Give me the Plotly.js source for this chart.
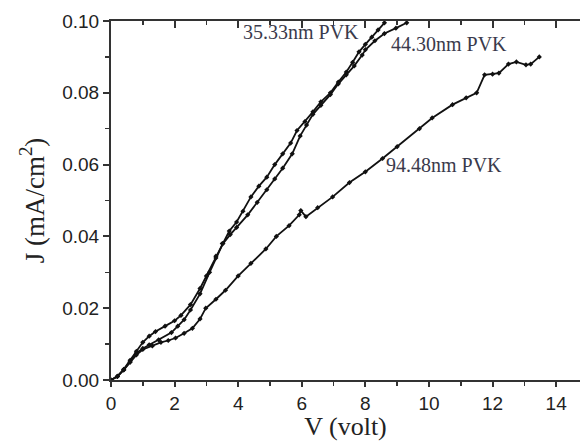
<!DOCTYPE html>
<html>
<head>
<meta charset="utf-8">
<script src="https://cdn.plot.ly/plotly-3.0.1.min.js"></script>
<style>
html,body{margin:0;padding:0;background:#fff;}
#chart{width:580px;height:441px;}
</style>
</head>
<body>
<div id="chart"></div>
<script>
// 35.33 nm PVK
const v35 = [0, 0.2, 0.4, 0.6, 0.8, 1.0, 1.2, 1.4, 1.7, 2.0, 2.2, 2.5, 2.8, 3.0, 3.3, 3.5, 3.72, 3.95, 4.15, 4.4, 4.65, 4.9, 5.15, 5.4, 5.65, 5.85, 6.1, 6.35, 6.6, 6.9, 7.15, 7.4, 7.6, 7.8, 8.0, 8.2, 8.4, 8.6];
const j35 = [0, 0.001, 0.003, 0.0055, 0.008, 0.0105, 0.0122, 0.0135, 0.015, 0.0165, 0.018, 0.021, 0.0255, 0.029, 0.0345, 0.038, 0.0415, 0.044, 0.047, 0.051, 0.054, 0.0565, 0.060, 0.063, 0.066, 0.0695, 0.072, 0.0747, 0.0775, 0.080, 0.083, 0.0858, 0.0885, 0.0914, 0.0935, 0.0955, 0.0975, 0.0995];
// 44.30 nm PVK
const v44 = [0, 0.2, 0.4, 0.6, 0.8, 1.0, 1.2, 1.5, 1.9, 2.1, 2.3, 2.5, 2.8, 3.1, 3.3, 3.52, 3.75, 3.95, 4.3, 4.6, 4.9, 5.15, 5.4, 5.7, 5.95, 6.15, 6.35, 6.6, 6.9, 7.15, 7.4, 7.65, 7.9, 8.0, 8.3, 8.6, 8.96, 9.3];
const j44 = [0, 0.001, 0.0028, 0.005, 0.0075, 0.0088, 0.0098, 0.0112, 0.0132, 0.015, 0.0168, 0.0195, 0.024, 0.030, 0.034, 0.038, 0.0405, 0.0425, 0.046, 0.0495, 0.053, 0.056, 0.059, 0.063, 0.068, 0.071, 0.074, 0.0765, 0.0795, 0.0825, 0.085, 0.0875, 0.0905, 0.092, 0.0945, 0.0965, 0.098, 0.0995];
// 94.48 nm PVK
const v94 = [0, 0.2, 0.4, 0.6, 0.8, 1.0, 1.3, 1.57, 1.8, 2.03, 2.3, 2.56, 2.8, 2.98, 3.3, 3.6, 4.0, 4.4, 4.87, 5.2, 5.6, 5.92, 5.97, 6.13, 6.5, 6.97, 7.5, 8.0, 8.54, 9.0, 9.7, 10.1, 10.74, 11.17, 11.5, 11.75, 12.0, 12.2, 12.5, 12.75, 13.05, 13.2, 13.47];
const j94 = [0, 0.001, 0.0028, 0.005, 0.007, 0.0085, 0.0095, 0.0105, 0.011, 0.0117, 0.013, 0.0144, 0.017, 0.020, 0.0225, 0.025, 0.029, 0.0325, 0.0365, 0.040, 0.043, 0.046, 0.0472, 0.0455, 0.048, 0.051, 0.055, 0.058, 0.0617, 0.065, 0.070, 0.073, 0.0767, 0.0786, 0.080, 0.085, 0.0852, 0.0855, 0.088, 0.0886, 0.0878, 0.088, 0.090];

const seriesNames = ['35.33nm PVK', '44.30nm PVK', '94.48nm PVK'];
const xTickVals = [0, 2, 4, 6, 8, 10, 12, 14];
const yTickVals = [0, 0.02, 0.04, 0.06, 0.08, 0.10];

const mk = (x, y, name) => ({
  x: x, y: y, name: name, type: 'scatter', mode: 'lines+markers',
  line: {color: '#111', width: 1.8},
  marker: {color: '#111', size: 4, symbol: 'diamond'},
  showlegend: false, hoverinfo: 'skip'
});

const data = [
  mk(v35, j35, seriesNames[0]),
  mk(v44, j44, seriesNames[1]),
  mk(v94, j94, seriesNames[2]),
  {x: [0], y: [0], xaxis: 'x2', yaxis: 'y', type: 'scatter', mode: 'markers',
   marker: {opacity: 0}, showlegend: false, hoverinfo: 'skip'}
];

const axColor = '#333';
const serif = 'Liberation Serif, Times New Roman, serif';
const sans = 'Liberation Sans, Arial, sans-serif';

const layout = {
  width: 580, height: 441,
  margin: {l: 111, r: 0, t: 21, b: 61, pad: 0},
  paper_bgcolor: '#fff', plot_bgcolor: '#fff',
  xaxis: {
    range: [0, 14.75], tickvals: xTickVals, ticktext: xTickVals.map(String),
    showline: true, linecolor: axColor, linewidth: 2, zeroline: false, showgrid: false,
    ticks: 'outside', ticklen: 5, tickwidth: 2, tickcolor: axColor,
    minor: {dtick: 1, tick0: 0, ticks: 'outside', ticklen: 4, tickwidth: 1.5, tickcolor: axColor, showgrid: false},
    tickfont: {family: sans, size: 19, color: '#222'},
    title: {text: 'V (volt)', font: {family: serif, size: 26, color: '#222'}, standoff: 6}
  },
  xaxis2: {
    overlaying: 'x', side: 'top', matches: 'x', range: [0, 14.75],
    tickvals: xTickVals, showticklabels: false,
    showline: true, linecolor: axColor, linewidth: 2, zeroline: false, showgrid: false,
    ticks: 'inside', ticklen: 7, tickwidth: 2, tickcolor: axColor,
    minor: {dtick: 1, tick0: 0, ticks: 'inside', ticklen: 4, tickwidth: 1.5, tickcolor: axColor, showgrid: false}
  },
  yaxis: {
    range: [0, 0.1], tickvals: yTickVals, tickformat: '.2f',
    showline: true, linecolor: axColor, linewidth: 2, zeroline: false, showgrid: false,
    ticks: 'outside', ticklen: 6, tickwidth: 2, tickcolor: axColor,
    minor: {dtick: 0.01, tick0: 0, ticks: 'outside', ticklen: 4, tickwidth: 1.5, tickcolor: axColor, showgrid: false},
    tickfont: {family: sans, size: 19, color: '#222'},
    title: {text: 'J (mA/cm<sup>2</sup>)', font: {family: serif, size: 27, color: '#222'}, standoff: 10}
  },
  annotations: [
    {x: 5.98, y: 0.0968, xref: 'x', yref: 'y', text: seriesNames[0], showarrow: false,
     font: {family: serif, size: 20, color: '#3a3a4c'}},
    {x: 10.64, y: 0.0935, xref: 'x', yref: 'y', text: seriesNames[1], showarrow: false,
     font: {family: serif, size: 20, color: '#3a3a4c'}},
    {x: 10.48, y: 0.060, xref: 'x', yref: 'y', text: seriesNames[2], showarrow: false,
     font: {family: serif, size: 20, color: '#3a3a4c'}}
  ]
};

Plotly.newPlot('chart', data, layout, {staticPlot: true, displayModeBar: false});
</script>
</body>
</html>
